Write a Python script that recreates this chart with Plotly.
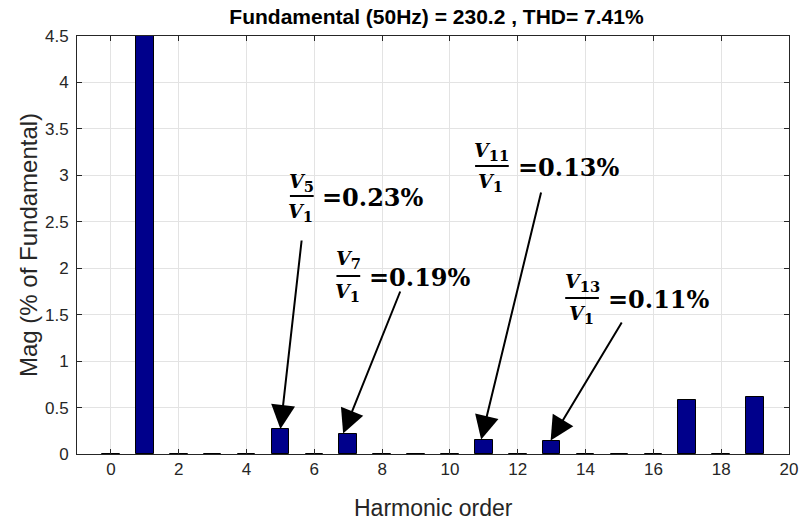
import plotly.graph_objects as go

# ---------------- data ----------------
harmonic_order = list(range(0, 20))
magnitude_pct = [0.004, 100.0, 0.003, 0.005, 0.003, 0.27, 0.003, 0.22, 0.002, 0.005,
                 0.002, 0.155, 0.002, 0.145, 0.003, 0.005, 0.002, 0.58, 0.003, 0.61]

title_text = "Fundamental (50Hz) = 230.2 , THD= 7.41%"
x_label = "Harmonic order"
y_label = "Mag (% of Fundamental)"
x_ticks = list(range(0, 21, 2))
y_ticks = [0, 0.5, 1, 1.5, 2, 2.5, 3, 3.5, 4, 4.5]

# annotated harmonics
ann_orders = [5, 7, 11, 13]
ann_subs = ["5", "7", "11", "13"]
ann_values = ["0.23%", "0.19%", "0.13%", "0.11%"]

# ---------------- layout geometry (pixels) ----------------
W, H = 810, 523
L, R, T, B = 77, 796, 36, 454
X0, X1 = -1, 20
Y0, Y1 = 0, 4.5


def px2x(px):
    return X0 + (px - L) / (R - L) * (X1 - X0)


def py2y(py):
    return Y0 + (B - py) / (B - T) * (Y1 - Y0)


# label placement: fraction centre x, numerator y, fraction bar y, denominator y, "=.." left x
label_pos = [
    (304, 182, 196, 212, 322),
    (351, 259, 276, 292, 370),
    (496, 151, 166, 182, 520),
    (587, 282, 298, 314, 611),
]
# arrow tails (pixels) and tip offsets in x (harmonic units)
arrow_tails = [(304, 239), (404, 290), (546, 191), (628, 321)]
tip_dx = [0.0, -0.15, -0.08, -0.03]


def v_with_sub(sub):
    return ("<b><i>V</i><span style='font-size:21px'><sub>%s</sub></span></b>" % sub)


fig = go.Figure()
fig.add_trace(go.Bar(
    x=harmonic_order, y=magnitude_pct, width=0.52,
    marker=dict(color="#00008B", line=dict(color="#000000", width=1)),
    showlegend=False,
))

annotations = []
shapes = []
serif = "DejaVu Serif"
for k, h in enumerate(ann_orders):
    cx, ny, by, dy, lx = label_pos[k]
    annotations.append(dict(
        x=px2x(cx), y=py2y(ny), xref="x", yref="y", showarrow=False,
        text=v_with_sub(ann_subs[k]),
        font=dict(family=serif, size=19, color="#000000"),
        xanchor="center", yanchor="middle"))
    annotations.append(dict(
        x=px2x(cx - 1), y=py2y(dy), xref="x", yref="y", showarrow=False,
        text=v_with_sub("1"),
        font=dict(family=serif, size=19, color="#000000"),
        xanchor="center", yanchor="middle"))
    half = 12 if len(ann_subs[k]) == 1 else 17
    shapes.append(dict(
        type="line", xref="x", yref="y",
        x0=px2x(cx - half), x1=px2x(cx + half), y0=py2y(by), y1=py2y(by),
        line=dict(color="#000000", width=2)))
    annotations.append(dict(
        x=px2x(lx), y=py2y(by + 1), xref="x", yref="y", showarrow=False,
        text="<b>=%s</b>" % ann_values[k],
        font=dict(family=serif, size=24, color="#000000"),
        xanchor="left", yanchor="middle"))
    tx, ty = arrow_tails[k]
    annotations.append(dict(
        x=h + tip_dx[k], y=magnitude_pct[h], xref="x", yref="y",
        ax=px2x(tx), ay=py2y(ty), axref="x", ayref="y",
        showarrow=True, arrowhead=2, arrowsize=2.4, arrowwidth=2,
        arrowcolor="#000000", text=""))

# axis titles
annotations.append(dict(
    x=0, y=0.5, xref="paper", yref="paper",
    text=y_label, textangle=-90, showarrow=False,
    xshift=-(L - 28), font=dict(family="Liberation Sans", size=24, color="#262626"),
    xanchor="center", yanchor="middle"))
annotations.append(dict(
    x=0.5, y=0, xref="paper", yref="paper", text=x_label, showarrow=False,
    yshift=-(508 - B), font=dict(family="Liberation Sans", size=23, color="#262626"),
    xanchor="center", yanchor="middle"))

fig.update_layout(
    width=W, height=H,
    margin=dict(l=L, r=W - R, t=T, b=H - B),
    paper_bgcolor="#ffffff", plot_bgcolor="#ffffff",
    title=dict(text="<b>%s</b>" % title_text, x=(L + R) / 2 / W, xanchor="center",
               y=1 - 17 / H, yanchor="middle",
               font=dict(family="Liberation Sans", size=21, color="#000000")),
    annotations=annotations, shapes=shapes,
    bargap=0,
)
axis_common = dict(
    showline=True, linecolor="#262626", linewidth=1, mirror="ticks",
    ticks="inside", ticklen=5, tickcolor="#262626",
    showgrid=True, gridcolor="#e3e3e3", gridwidth=1, zeroline=False,
    tickfont=dict(family="Liberation Sans", size=17, color="#262626"),
)
fig.update_xaxes(range=[X0, X1], tickvals=x_ticks, **axis_common)
fig.update_yaxes(range=[Y0, Y1], tickvals=y_ticks, ticklabelstandoff=4, **axis_common)

fig.write_html("out.html")
